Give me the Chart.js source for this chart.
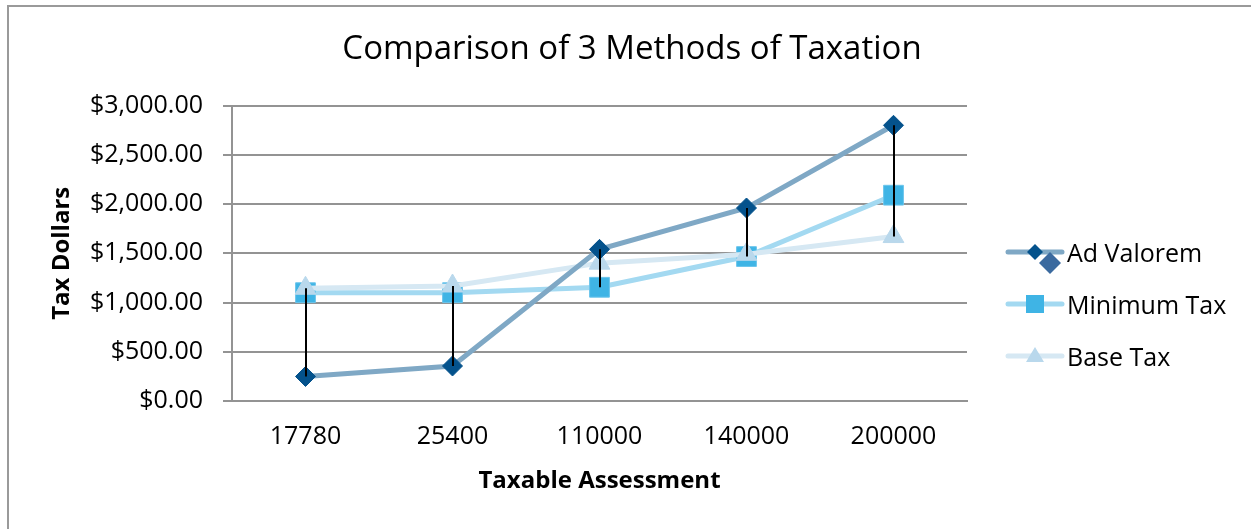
<!DOCTYPE html>
<html>
<head>
<meta charset="utf-8">
<script src="https://cdn.jsdelivr.net/npm/chart.js@4.4.1/dist/chart.umd.min.js"></script>
<style>
  body { margin: 0; background: #fff; }
  #wrap { position: relative; width: 1251px; height: 529px; overflow: hidden; }
  #frame { position: absolute; left: 7px; top: 5px; width: 1400px; height: 700px;
           border-left: 2px solid #9a9a9a; border-top: 2px solid #9a9a9a; }
  #chart { position: absolute; left: 0; top: 0; }
  .row { position: absolute; left: 1004px; height: 44px; }
  .row canvas { position: absolute; left: 0; top: 0; }
  .row span { position: absolute; left: 63px; top: 0; line-height: 40px; white-space: nowrap;
              font-family: 'Open Sans', sans-serif; font-size: 25px; color: #000; }
</style>
</head>
<body>
<div id="wrap">
  <div id="frame"></div>
  <canvas id="chart" width="1251" height="529"></canvas>
  <div id="legend"></div>
</div>
<script>
// Taxable assessment categories
var assessments = ['17780', '25400', '110000', '140000', '200000'];

// tax dollars per method
var adValorem  = [248.92, 355.6, 1540, 1960, 2800];
var minimumTax = [1100, 1100, 1155, 1467, 2090];
var baseTax    = [1145, 1168, 1400, 1490, 1670];

var yMin = 0, yMax = 3000, yStep = 500;

Chart.defaults.font.family = "'Open Sans', sans-serif";
Chart.defaults.color = '#000';

var gridGray = '#939393';

// black high-low lines between the top and bottom value of each category
var highLow = {
    id: 'highLow',
    afterDatasetsDraw: function (chart) {
        var ctx = chart.ctx, x = chart.scales.x, y = chart.scales.y;
        ctx.save();
        ctx.strokeStyle = '#000';
        ctx.lineWidth = 2;
        for (var i = 0; i < assessments.length; i++) {
            var vals = [adValorem[i], minimumTax[i], baseTax[i]];
            var px = Math.round(x.getPixelForValue(i));
            ctx.beginPath();
            ctx.moveTo(px, y.getPixelForValue(Math.max.apply(null, vals)));
            ctx.lineTo(px, y.getPixelForValue(Math.min.apply(null, vals)));
            ctx.stroke();
        }
        ctx.restore();
    }
};

// title is centred over the whole frame, not just the plot
var titleSpan = {
    id: 'titleSpan',
    afterLayout: function (chart) {
        var t = chart.titleBlock;
        if (t) { t.left = 13; t.right = 1251; t.width = t.right - t.left; }
    }
};

var chartdata = {
    labels: assessments,
    datasets: [
        {
            label: 'Ad Valorem',
            data: adValorem,
            order: 0,
            borderColor: '#7fa8c5',
            borderWidth: 5,
            pointStyle: 'rectRot',
            pointRadius: 10,
            pointHoverRadius: 10,
            pointBackgroundColor: '#04528c',
            pointBorderColor: '#04528c',
            pointBorderWidth: 1
        },
        {
            label: 'Minimum Tax',
            data: minimumTax,
            order: 2,
            borderColor: '#a3d9f1',
            borderWidth: 5,
            pointStyle: 'rect',
            pointRadius: 14,
            pointHoverRadius: 14,
            pointBackgroundColor: '#3fb4e5',
            pointBorderColor: '#6cc5ec',
            pointBorderWidth: 1
        },
        {
            label: 'Base Tax',
            data: baseTax,
            order: 1,
            borderColor: '#d6e8f3',
            borderWidth: 5,
            pointStyle: 'triangle',
            pointRadius: 12,
            pointHoverRadius: 12,
            pointBackgroundColor: '#b9d8ec',
            pointBorderColor: '#b9d8ec',
            pointBorderWidth: 1
        }
    ]
};

var barGraph = new Chart(document.getElementById('chart'), {
    type: 'line',
    data: chartdata,
    plugins: [highLow, titleSpan],
    options: {
        responsive: false,
        animation: false,
        layout: { padding: { top: 8, left: 40, right: 284, bottom: 0 } },
        plugins: {
            legend: { display: false },
            tooltip: { enabled: false },
            title: {
                display: true,
                text: 'Comparison of 3 Methods of Taxation',
                color: '#000',
                font: { size: 33, weight: 'normal' },
                padding: { top: 22, bottom: 36 }
            }
        },
        scales: {
            x: {
                offset: true,
                grid: { display: false, drawTicks: false },
                border: { display: true, color: gridGray, width: 2 },
                ticks: { padding: 21, font: { size: 25 }, color: '#000' },
                title: {
                    display: true,
                    text: 'Taxable Assessment',
                    color: '#000',
                    font: { size: 24, weight: 'bold' },
                    padding: { top: 0, bottom: 33 }
                },
                afterFit: function (scale) { scale.height = 128; }
            },
            y: {
                min: yMin,
                max: yMax,
                grid: { color: gridGray, lineWidth: 2, drawTicks: true, tickLength: 9 },
                border: { display: true, color: gridGray, width: 2 },
                ticks: {
                    stepSize: yStep,
                    padding: 20,
                    font: { size: 25 },
                    color: '#000',
                    callback: function (v) {
                        return '$' + Number(v).toLocaleString('en-US', { minimumFractionDigits: 2, maximumFractionDigits: 2 });
                    }
                },
                title: {
                    display: true,
                    text: 'Tax Dollars',
                    color: '#000',
                    font: { size: 24, weight: 'bold' },
                    padding: { top: 8, bottom: 0 }
                },
                afterFit: function (scale) { scale.width = 192; }
            }
        }
    }
});

// legend: line sample + marker, then label
function diamond(ctx, cx, cy, r, color) {
    ctx.fillStyle = color;
    ctx.beginPath();
    ctx.moveTo(cx, cy - r); ctx.lineTo(cx + r, cy); ctx.lineTo(cx, cy + r); ctx.lineTo(cx - r, cy);
    ctx.closePath(); ctx.fill();
}

var legendRows = [
    { label: 'Ad Valorem', y: 252, line: '#7fa8c5', draw: function (ctx) {
        diamond(ctx, 31, 20, 8, '#04528c');
        diamond(ctx, 46, 31, 11, '#3b6a9f');
    } },
    { label: 'Minimum Tax', y: 304, line: '#a3d9f1', draw: function (ctx) {
        ctx.fillStyle = '#3fb4e5';
        ctx.fillRect(22, 11, 18, 18);
    } },
    { label: 'Base Tax', y: 356, line: '#d6e8f3', draw: function (ctx) {
        ctx.fillStyle = '#b9d8ec';
        ctx.beginPath();
        ctx.moveTo(31, 11); ctx.lineTo(40, 26); ctx.lineTo(22, 26);
        ctx.closePath(); ctx.fill();
    } }
];

var legendEl = document.getElementById('legend');
legendRows.forEach(function (r) {
    var row = document.createElement('div');
    row.className = 'row';
    row.style.top = (r.y - 20) + 'px';
    var c = document.createElement('canvas');
    c.width = 62; c.height = 44;
    var ctx = c.getContext('2d');
    ctx.strokeStyle = r.line;
    ctx.lineWidth = 5;
    ctx.lineCap = 'round';
    ctx.beginPath(); ctx.moveTo(4, 20); ctx.lineTo(58, 20); ctx.stroke();
    r.draw(ctx);
    var s = document.createElement('span');
    s.textContent = r.label;
    row.appendChild(c);
    row.appendChild(s);
    legendEl.appendChild(row);
});
</script>
</body>
</html>
